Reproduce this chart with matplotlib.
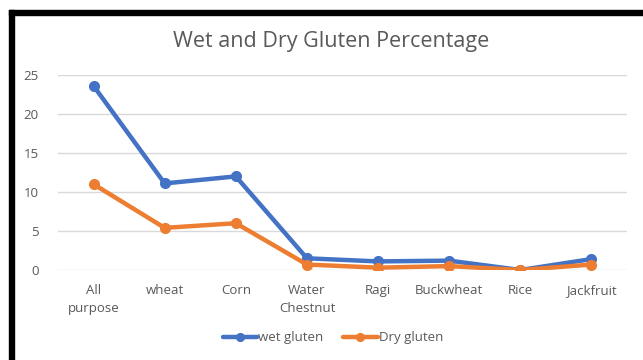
import matplotlib
matplotlib.use("Agg")
import matplotlib.pyplot as plt
from matplotlib.patches import Rectangle

categories = ["All\npurpose", "wheat", "Corn", "Water\nChestnut", "Ragi",
              "Buckwheat", "Rice", "Jackfruit"]
wet_gluten = [23.6, 11.1, 12.0, 1.5, 1.1, 1.2, 0.0, 1.4]
dry_gluten = [11.0, 5.4, 6.0, 0.7, 0.3, 0.5, 0.0, 0.7]
y_ticks = [0, 5, 10, 15, 20, 25]

plt.rcParams['font.family'] = ['Open Sans', 'DejaVu Sans']
text_color = "#595959"
blue = "#4472C4"
orange = "#ED7D31"

fig = plt.figure(figsize=(6.43, 3.6), dpi=100)
fig.patch.set_facecolor("white")

# black frame on top and left edges
fig.patches.append(Rectangle((9 / 643, 0), 5 / 643, 1 - 10 / 360,
                             transform=fig.transFigure, color="black", zorder=0))
fig.patches.append(Rectangle((9 / 643, 1 - 15 / 360), 1, 5 / 360,
                             transform=fig.transFigure, color="black", zorder=0))

ax = fig.add_axes([58 / 643, 1 - 270 / 360, (627 - 58) / 643, (270 - 75) / 360])
x = list(range(len(categories)))
ax.plot(x, wet_gluten, color=blue, lw=3.2, marker="o", ms=7, label="wet gluten",
        solid_capstyle="round", zorder=3)
ax.plot(x, dry_gluten, color=orange, lw=3.2, marker="o", ms=7, label="Dry gluten",
        solid_capstyle="round", zorder=3)

ax.set_xlim(-0.5, len(categories) - 0.5)
ax.set_ylim(0, 25)
ax.set_yticks(y_ticks)
ax.set_xticks(x)
ax.set_xticklabels(categories, color=text_color, fontsize=9.5, linespacing=1.5)
ax.tick_params(axis="y", colors=text_color, labelsize=9.5, length=0, pad=14)
ax.tick_params(axis="x", length=0, pad=10)
ax.grid(axis="y", color="#D9D9D9", lw=1)
ax.set_axisbelow(True)
for s in ax.spines.values():
    s.set_visible(False)
for lbl in ax.get_yticklabels():
    lbl.set_horizontalalignment("right")

fig.text(331 / 643, 1 - 42 / 360, "Wet and Dry Gluten Percentage", ha="center",
         va="center", fontsize=15.5, color=text_color)

fig.legend(loc="center", bbox_to_anchor=(333 / 643, 1 - 338 / 360), ncol=2,
           frameon=False, fontsize=9.5, labelcolor=text_color, handlelength=2.6,
           handletextpad=0.1, columnspacing=1.5, markerscale=0.8)

fig.savefig("out.png", dpi=100, facecolor="white")
